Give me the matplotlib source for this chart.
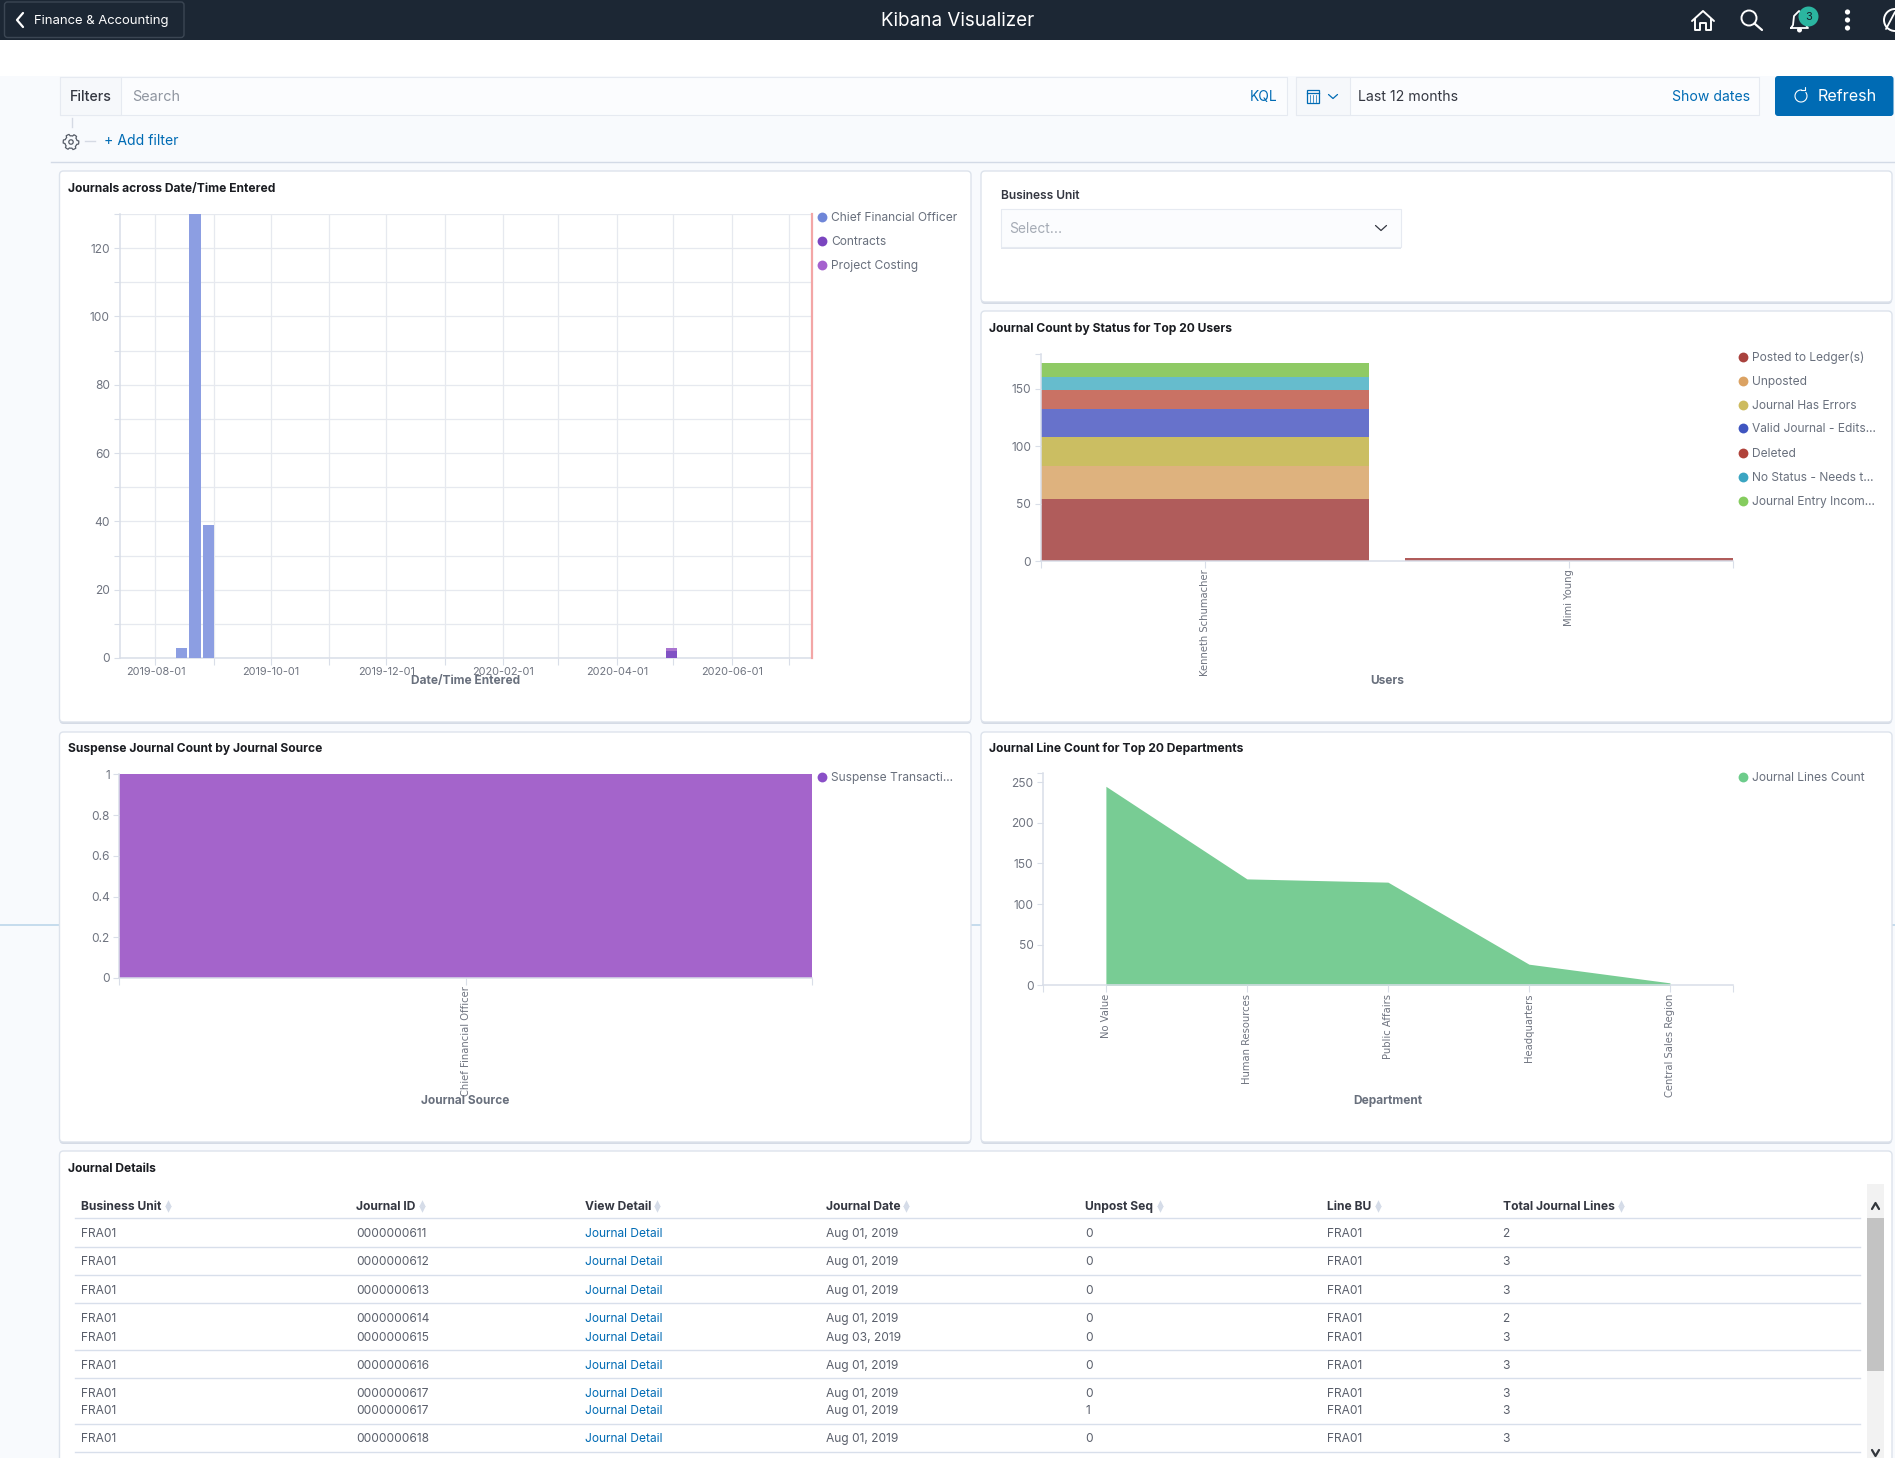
import datetime as dt
import math
from matplotlib import pyplot as plt
from matplotlib import dates as mdates
from matplotlib import patches
from matplotlib.ticker import FixedLocator, MultipleLocator

W, H = 1895, 1458

plt.rcParams['font.family'] = ['Inter', 'DejaVu Sans']

# journals by week
week_dates = ['2019-08-12', '2019-08-19', '2019-08-26', '2020-04-27']
cfo_counts = [3, 130, 39, 0]
contracts_counts = [0, 0, 0, 2]
costing_counts = [0, 0, 0, 1]
journal_legend = ['Chief Financial Officer', 'Contracts', 'Project Costing']

# status by user
users = ['Kenneth Schumacher', 'Mimi Young']
status_names = ['Posted to Ledger(s)', 'Unposted', 'Journal Has Errors', 'Valid Journal - Edits...',
                'Deleted', 'No Status - Needs t...', 'Journal Entry Incom...']
status_counts = [[54, 3], [29, 0], [25, 0], [24, 0], [17, 0], [11, 0], [12, 0]]
status_colors = ['#b05c5b', '#deb27e', '#cbbe62', '#6772cb', '#c97264', '#66bccd', '#8fca65']
status_dots = ['#a9423e', '#dba263', '#cdbb5e', '#3f55c0', '#b0423a', '#3ba5c2', '#85cc5e']

# suspense
suspense_sources = ['Chief Financial Officer']
suspense_counts = [1]
suspense_ticks = [0, 0.2, 0.4, 0.6, 0.8, 1]
suspense_ticklabels = ['0', '0.2', '0.4', '0.6', '0.8', '1']

# departments
departments = ['No Value', 'Human Resources', 'Public Affairs', 'Headquarters', 'Central Sales Region']
dept_counts = [245, 131, 127, 26, 3]

# table
table_headers = ['Business Unit', 'Journal ID', 'View Detail', 'Journal Date', 'Unpost Seq', 'Line BU', 'Total Journal Lines']
business_units = ['FRA01'] * 9
journal_ids = ['0000000611', '0000000612', '0000000613', '0000000614', '0000000615',
               '0000000616', '0000000617', '0000000617', '0000000618']
view_details = ['Journal Detail'] * 9
journal_dates = ['Aug 01, 2019', 'Aug 01, 2019', 'Aug 01, 2019', 'Aug 01, 2019', 'Aug 03, 2019',
                 'Aug 01, 2019', 'Aug 01, 2019', 'Aug 01, 2019', 'Aug 01, 2019']
unpost_seq = ['0', '0', '0', '0', '0', '0', '0', '1', '0']
line_bus = ['FRA01'] * 9
total_lines = ['2', '3', '3', '2', '3', '3', '3', '3', '3']

BLUE = '#006bb4'
GRID = '#e6e9ef'
AXIS = '#d9dee8'
TICK = '#6f7480'
DARK = '#1a1c21'
HEAD = '#69707d'

fig = plt.figure(figsize=(W / 100, H / 100), dpi=100, facecolor='#f8fafd')
bg = fig.add_axes([0, 0, 1, 1])
bg.set_xlim(0, W)
bg.set_ylim(H, 0)
bg.axis('off')


def px(size):
    return size * 0.72


def label(x, y, s, size=13, color=DARK, weight='normal', ha='left', **kw):
    return bg.text(x, y + 1, s, fontsize=px(size), color=color, fontweight=weight, ha=ha, va='center', **kw)


def rect(x0, y0, x1, y1, fc, ec='none', lw=1, z=1, radius=0):
    if radius:
        p = patches.FancyBboxPatch((x0, y0), x1 - x0, y1 - y0, boxstyle='round,pad=0,rounding_size=%g' % radius,
                                   fc=fc, ec=ec, lw=lw, zorder=z)
    else:
        p = patches.Rectangle((x0, y0), x1 - x0, y1 - y0, fc=fc, ec=ec, lw=lw, zorder=z)
    bg.add_patch(p)


def stroke(xs, ys, color, lw=1.0, z=3):
    bg.plot(xs, ys, color=color, lw=lw, zorder=z, solid_capstyle='round', solid_joinstyle='round')


def panel(x0, y0, x1, y1):
    rect(x0, y0 + 2, x1, y1 + 2, '#d5dbe5', radius=4, z=1.5)
    rect(x0, y0, x1, y1, 'white', ec='#dde3ec', lw=1, radius=4, z=2)


def legend(x, ys, names, colors):
    for y, name, c in zip(ys, names, colors):
        bg.scatter([x], [y], s=50, color=c, zorder=4, linewidths=0)
        label(x + 9, y, name, size=12, color='#69707d', zorder=4)


def chart(left, top, right, bottom):
    ax = fig.add_axes([left / W, 1 - bottom / H, (right - left) / W, (bottom - top) / H])
    ax.patch.set_alpha(0)
    for side in ['top', 'right']:
        ax.spines[side].set_visible(False)
    for side in ['left', 'bottom']:
        ax.spines[side].set_color(AXIS)
        ax.spines[side].set_linewidth(1.1)
    ax.tick_params(which='both', length=px(6.5), width=0.8, color=AXIS, labelcolor=TICK, labelsize=px(12), pad=px(3))
    return ax


def rotate_labels(ax, pad):
    for t in ax.get_xticklabels():
        t.set_rotation(90)
        t.set_fontfamily('DejaVu Sans')
        t.set_fontsize(px(10))
        t.set_color(TICK)
        t.set_ha('center')
        t.set_va('top')
    ax.tick_params(axis='x', pad=px(pad))


# page chrome
rect(0, 40, W, 76, 'white')
bg.plot([0, W], [925, 925], color='#bcd6ea', lw=1.2, zorder=0.5)
rect(0, 0, W, 40, '#1c2734')
rect(4.5, 2, 184, 37.5, 'none', ec='#3b4653', lw=1, radius=3, z=2)
stroke([23, 17, 23], [13, 20, 27], 'white', 1.6)
label(34, 19.5, 'Finance & Accounting', size=13.1, color='white', zorder=4)
label(958, 19.5, 'Kibana Visualizer', size=18.8, color='white', ha='center', zorder=4)

# top bar icons
stroke([1692, 1703, 1714], [21, 11, 21], 'white', 1.4)
stroke([1695, 1695, 1700, 1700, 1706, 1706, 1711, 1711], [19, 30, 30, 23, 23, 30, 30, 19], 'white', 1.4)
bg.add_patch(patches.Circle((1749, 18), 7.5, fc='none', ec='white', lw=1.4, zorder=3))
stroke([1754.5, 1762], [23.5, 30], 'white', 1.6)
stroke([1791, 1793, 1794, 1799, 1805, 1806, 1808, 1791], [28, 25, 16, 11, 16, 25, 28, 28], 'white', 1.3)
bg.add_patch(patches.Circle((1799.5, 30), 2.5, fc='white', ec='none', zorder=3))
bg.add_patch(patches.Circle((1808.5, 16.5), 10, fc='#2bb5a0', ec='none', zorder=4))
label(1808.5, 15.5, '3', size=11, color='#17202b', ha='center', zorder=5)
for cy in [12, 20, 28]:
    bg.add_patch(patches.Circle((1847.5, cy), 2.6, fc='white', ec='none', zorder=3))
bg.add_patch(patches.Circle((1895, 20), 11, fc='none', ec='white', lw=1.4, zorder=3))
stroke([1886, 1895], [29, 12], 'white', 1.3)

# filter bar
rect(59.5, 76.5, 1287, 116, '#e0e5ee', z=1)
rect(59.5, 76.5, 1287, 114.5, '#fbfcfe', ec='#e6eaf1', lw=0.8, z=1.1)
rect(59.5, 76.5, 121, 114.5, '#f6f8fb', ec='#e6eaf1', lw=0.8, z=1.2)
label(70, 96, 'Filters', size=14.2, color='#343741', weight='medium', zorder=3)
label(132.5, 95.5, 'Search', size=14.4, color='#8f95a0', zorder=3)
label(1277, 95.5, 'KQL', size=13.8, color=BLUE, ha='right', zorder=3)
rect(1295.5, 76.5, 1759, 116, '#e0e5ee', z=1)
rect(1295.5, 76.5, 1759, 114.5, '#fbfcfe', ec='#e6eaf1', lw=0.8, z=1.1)
rect(1295.5, 76.5, 1349.5, 114.5, '#f6f8fb', ec='#e6eaf1', lw=0.8, z=1.2)
rect(1307, 90, 1319, 103, 'none', ec=BLUE, lw=0.9, z=3)
bg.plot([1307, 1319], [93, 93], color=BLUE, lw=0.9, zorder=3)
for cx in [1310, 1313, 1316]:
    bg.plot([cx, cx], [95, 101.5], color=BLUE, lw=0.5, zorder=3)
stroke([1328.5, 1333, 1337.5], [94.5, 98.5, 94.5], BLUE, 0.9)
label(1357.5, 95.5, 'Last 12 months', size=14.1, color='#343741', zorder=3)
label(1750.5, 95.5, 'Show dates', size=14, color=BLUE, ha='right', zorder=3)
rect(1775, 76, 1893.5, 116, BLUE, radius=3, z=2)
bg.add_patch(patches.Arc((1801, 96), 12, 12, theta1=-40, theta2=280, ec='white', lw=0.8, zorder=3))
stroke([1801, 1804.5], [90, 90], 'white', 0.8)
stroke([1804.5, 1804.5], [86.5, 90], 'white', 0.8)
label(1817.5, 95.5, 'Refresh', size=16.1, color='white', zorder=3)

# add filter row
bg.plot([71.5, 71.5], [118, 127], color='#d5dae4', lw=1, zorder=3)
gear = []
for i in range(48):
    a = 2 * math.pi * i / 48
    r = 7.8 if (i % 8) in (0, 1, 2, 7) else 6.2
    gear.append((71 + r * math.cos(a), 142 + r * math.sin(a)))
bg.add_patch(patches.Polygon(gear, closed=True, fc='none', ec='#555b66', lw=0.9, zorder=3))
bg.add_patch(patches.Circle((71, 142), 2.2, fc='none', ec='#555b66', lw=0.9, zorder=3))
bg.plot([85, 95], [141, 141], color='#d5dae4', lw=1, zorder=3)
label(104.5, 139.5, '+ Add filter', size=14, color=BLUE, zorder=3)
bg.plot([51, W], [162, 162], color='#d3dae6', lw=1, zorder=1)

# panels
panel(59.5, 171, 971, 722)
panel(981, 171, 1892, 302)
panel(981, 311, 1892, 722)
panel(59.5, 732, 971, 1142)
panel(981, 732, 1892, 1142)
panel(59.5, 1151, 1892, 1490)

# business unit selector
label(1001, 194.5, 'Business Unit', size=12, color='#343741', weight='semibold', zorder=4)
rect(1001, 209, 1400.5, 248.5, '#e2e6ee', z=3)
rect(1001, 209, 1400.5, 247, '#fbfcfe', ec='#e6eaf1', lw=0.8, z=3.1)
label(1009, 227.5, 'Select...', size=13.8, color='#a5abb5', zorder=4)
stroke([1375.5, 1381, 1386.5], [225.5, 230.5, 225.5], '#343741', 0.9, z=4)

# journals across date
label(68, 188, 'Journals across Date/Time Entered', size=12.05, weight='bold', zorder=4)
ax1 = chart(119.5, 214, 811.5, 658)
starts = [mdates.date2num(dt.date.fromisoformat(d)) for d in week_dates]
ax1.bar(starts, cfo_counts, width=5.9, align='edge', color='#8c9ee2', zorder=3)
ax1.bar(starts, contracts_counts, bottom=cfo_counts, width=5.9, align='edge', color='#8052c4', zorder=3)
stacked = [a + b for a, b in zip(cfo_counts, contracts_counts)]
ax1.bar(starts, costing_counts, bottom=stacked, width=5.9, align='edge', color='#a974d0', zorder=3)
ax1.set_xlim(mdates.date2num(dt.date(2019, 7, 13)), mdates.date2num(dt.date(2020, 7, 13)))
ax1.set_ylim(0, 130)
ax1.xaxis.set_major_locator(mdates.MonthLocator(bymonth=[2, 4, 6, 8, 10, 12]))
ax1.xaxis.set_major_formatter(mdates.DateFormatter('%Y-%m-%d'))
ax1.xaxis.set_minor_locator(mdates.MonthLocator())
ax1.yaxis.set_major_locator(MultipleLocator(20))
ax1.yaxis.set_minor_locator(MultipleLocator(10))
ax1.grid(which='both', color=GRID, lw=0.9, zorder=0)
ax1.set_axisbelow(True)
ax1.tick_params(axis='x', labelsize=px(10.9), pad=px(2.6))
ax1.axvline(ax1.get_xlim()[1], color='#f3a6a6', lw=1.6, zorder=4, clip_on=False)
label(465.5, 680, 'Date/Time Entered', size=11.9, color=HEAD, weight='bold', ha='center', zorder=4)
legend(822, [216.7, 241, 265], journal_legend, ['#6f86d8', '#7b45bf', '#a561ce'])

# status by user
label(989, 328, 'Journal Count by Status for Top 20 Users', size=12.05, weight='bold', zorder=4)
ax2 = chart(1040.7, 354, 1733, 561)
base = [0, 0]
for counts, color in zip(status_counts, status_colors):
    ax2.bar(range(len(users)), counts, bottom=base, width=0.9, color=color)
    base = [a + b for a, b in zip(base, counts)]
ax2.set_xlim(-0.45, 1.45)
ax2.set_ylim(0, 180)
ax2.set_yticks([0, 50, 100, 150])
ax2.yaxis.set_minor_locator(FixedLocator([180]))
ax2.set_xticks(range(len(users)), users)
ax2.xaxis.set_minor_locator(FixedLocator([-0.45, 1.45]))
rotate_labels(ax2, 2)
label(1387, 679.5, 'Users', size=11.9, color=HEAD, weight='bold', ha='center', zorder=4)
legend(1743, [356.7, 380.6, 404.5, 428.4, 452.7, 476.6, 500.5], status_names, status_dots)

# suspense by source
label(68, 748, 'Suspense Journal Count by Journal Source', size=12.05, weight='bold', zorder=4)
ax3 = chart(119.3, 774.3, 812, 978)
ax3.bar(range(len(suspense_sources)), suspense_counts, width=1, color='#a464cb')
ax3.set_xlim(-0.5, 0.5)
ax3.set_ylim(0, 1)
ax3.set_yticks(suspense_ticks, suspense_ticklabels)
ax3.set_xticks(range(len(suspense_sources)), suspense_sources)
ax3.xaxis.set_minor_locator(FixedLocator([-0.5, 0.5]))
rotate_labels(ax3, 2)
label(465.5, 1100, 'Journal Source', size=11.9, color=HEAD, weight='bold', ha='center', zorder=4)
legend(822, [776.7], ['Suspense Transacti...'], ['#8a4fc7'])

# lines by department
label(989, 748, 'Journal Line Count for Top 20 Departments', size=12.05, weight='bold', zorder=4)
ax4 = chart(1043, 773.3, 1733, 985.3)
ax4.fill_between(range(len(departments)), dept_counts, 0, color='#78cc94', lw=0)
ax4.set_xlim(-0.446, 4.447)
ax4.set_ylim(0, 261)
ax4.set_yticks([0, 50, 100, 150, 200, 250])
ax4.yaxis.set_minor_locator(FixedLocator([261]))
ax4.set_xticks(range(len(departments)), departments)
ax4.xaxis.set_minor_locator(FixedLocator([-0.446, 4.447]))
rotate_labels(ax4, 2)
label(1387.5, 1100, 'Department', size=11.9, color=HEAD, weight='bold', ha='center', zorder=4)
legend(1743, [776.7], ['Journal Lines Count'], ['#6dcc8b'])

# table
label(68, 1168, 'Journal Details', size=12.05, weight='bold', zorder=4)
col_x = [81, 356.5, 585, 826, 1085.3, 1327, 1502.6]
sort_x = [167.7, 422, 657, 905.5, 1160, 1377.6, 1620.5]
row_y = [1232.7, 1260.7, 1289.7, 1317.7, 1336.7, 1364.7, 1392.7, 1410.3, 1438]
rule_y = [1218.3, 1247.3, 1275.3, 1303.3, 1350.3, 1378.3, 1424.3, 1452.3]
columns = [business_units, journal_ids, view_details, journal_dates, unpost_seq, line_bus, total_lines]
for x, sx, head, col in zip(col_x, sort_x, table_headers, columns):
    label(x, 1206, head, size=12.05, color='#343741', weight='bold', zorder=4)
    bg.scatter([sx], [1203], marker='^', s=22, color='#d5dce8', linewidths=0, zorder=4)
    bg.scatter([sx], [1209], marker='v', s=22, color='#d5dce8', linewidths=0, zorder=4)
    for y, val in zip(row_y, col):
        color = BLUE if head == 'View Detail' else '#5a5f6b'
        label(x, y, val, size=12, color=color, zorder=4)
for y in rule_y:
    bg.plot([75, 1859.5], [y, y], color='#d8dfeb', lw=1, zorder=3)
rect(1867, 1184, 1883.5, 1458, '#f2f2f2', z=3)
rect(1867, 1218, 1883.5, 1370.5, '#c3c3c3', z=3.1)
stroke([1872, 1875.5, 1879], [1209, 1203, 1209], '#33373d', 1.6, z=4)
stroke([1872, 1875.5, 1879], [1450, 1456, 1450], '#33373d', 1.6, z=4)

fig.savefig('out.png', dpi=100, facecolor=fig.get_facecolor())
